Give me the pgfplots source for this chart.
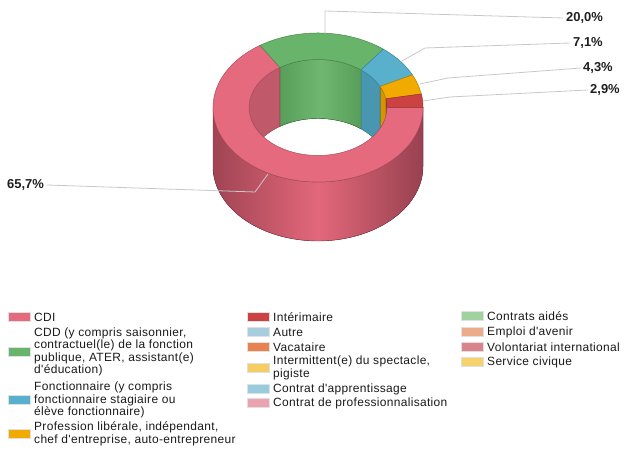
\documentclass[border=0pt]{standalone}
\usepackage{fontspec}
\setmainfont{Liberation Sans}
\newfontfamily\legfam[LetterSpace=2.8]{Liberation Sans}
\usepackage{pgfplots}
\pgfplotsset{compat=1.18}
\usepackage{pgfplotstable}
\usepgfplotslibrary{fillbetween}

\definecolor{cdi}{RGB}{229,106,126}
\definecolor{cdiD}{RGB}{160,68,84}
\definecolor{cdiM}{RGB}{226,104,122}
\definecolor{cdiIn}{RGB}{192,90,106}
\definecolor{cdd}{RGB}{104,180,106}
\definecolor{cddD}{RGB}{88,158,90}
\definecolor{fonc}{RGB}{88,176,204}
\definecolor{foncIn}{RGB}{72,150,176}
\definecolor{prof}{RGB}{240,170,0}
\definecolor{inter}{RGB}{204,66,66}
\definecolor{autre}{RGB}{166,206,222}
\definecolor{vaca}{RGB}{232,130,80}
\definecolor{intermit}{RGB}{246,205,100}
\definecolor{appr}{RGB}{150,204,222}
\definecolor{cpro}{RGB}{236,162,176}
\definecolor{aides}{RGB}{160,210,160}
\definecolor{avenir}{RGB}{236,172,140}
\definecolor{volont}{RGB}{216,132,138}
\definecolor{civique}{RGB}{246,210,110}
\definecolor{leader}{RGB}{200,200,200}

\pgfplotstableread{
label pct
CDI 65.7
CDD 20.0
Fonctionnaire 7.1
Profession 4.3
Interimaire 2.9
}\donutdata

% geometry of the donut (image pixel units)
\def\cx{318}\def\cy{107.5}\def\ra{105}\def\rb{74.5}\def\ia{69}\def\ib{48}\def\hh{59}

\newcommand\topface[4]{% id, color, t_lo, t_hi
  \addplot[name path=o#1, draw=none, domain=#3:#4, samples=80, forget plot] ({\cx+\ra*cos(x)},{\cy-\rb*sin(x)});
  \addplot[name path=i#1, draw=none, domain=#3:#4, samples=80, forget plot] ({\cx+\ia*cos(x)},{\cy-\ib*sin(x)});
  \addplot[fill=#2, draw=#2!75!black, line width=0.5bp, forget plot] fill between[of=o#1 and i#1];
}
\newcommand\innerwall[4]{% id, style, t_lo, t_hi (within 0..180)
  \addplot[name path=wt#1, draw=none, domain=#3:#4, samples=60, forget plot] ({\cx+\ia*cos(x)},{\cy-\ib*sin(x)});
  \addplot[name path=wb#1, draw=none, domain=#3:#4, samples=60, forget plot] ({\cx+\ia*cos(x)},{\cy+min(\hh-\ib*sin(x),\ib*sin(x))});
  \addplot[#2, forget plot] fill between[of=wt#1 and wb#1];
}
\newcommand\legfont{\legfam\fontsize{12}{12.5}\selectfont}
\newcommand\legentry[4]{% x, y, color, text
  \filldraw[fill=#3, draw=black!12, line width=0.6bp] (axis cs:#1,#2-4.5) rectangle (axis cs:#1+22,#2+4.5);
  \node[anchor=west, align=left, inner sep=0pt, font=\legfont, text=black!90] at (axis cs:#1+26,#2) {#4};
}

\begin{document}
\begin{tikzpicture}
\pgfplotstablegetelem{0}{pct}\of\donutdata\let\pA\pgfplotsretval
\pgfplotstablegetelem{1}{pct}\of\donutdata\let\pB\pgfplotsretval
\pgfplotstablegetelem{2}{pct}\of\donutdata\let\pC\pgfplotsretval
\pgfplotstablegetelem{3}{pct}\of\donutdata\let\pD\pgfplotsretval
\pgfplotstablegetelem{4}{pct}\of\donutdata\let\pE\pgfplotsretval
\pgfmathsetmacro\tA{0}
\pgfmathsetmacro\tB{\tA-3.6*\pA}
\pgfmathsetmacro\tC{\tB-3.6*\pB}
\pgfmathsetmacro\tD{\tC-3.6*\pC}
\pgfmathsetmacro\tE{\tD-3.6*\pD}
\pgfmathsetmacro\tF{\tE-3.6*\pE}
% same boundaries shifted by +360 for the back inner wall
\pgfmathsetmacro\sB{\tB+360}
\pgfmathsetmacro\sC{\tC+360}
\pgfmathsetmacro\sD{\tD+360}
\pgfmathsetmacro\sE{\tE+360}
\begin{axis}[
  scale only axis, width=629bp, height=450bp,
  xmin=0, xmax=629, ymin=0, ymax=450, y dir=reverse,
  axis lines=none, clip=false,
]
\path (axis cs:0,0) rectangle (axis cs:629,450);
% inner (back) walls seen through the hole
\innerwall{a}{fill=inter!85!black, draw=inter!60!black, line width=0.4bp}{0}{\sE}
\innerwall{b}{fill=prof!88!black, draw=prof!60!black, line width=0.4bp}{\sE}{\sD}
\innerwall{c}{fill=foncIn, draw=foncIn!70!black, line width=0.4bp}{\sD}{\sC}
\innerwall{d}{left color=cddD, right color=cddD, middle color=cdd!95!white, draw=cddD!70!black, line width=0.4bp}{\sC}{\sB}
\innerwall{e}{fill=cdiIn, draw=cdiIn!70!black, line width=0.4bp}{\sB}{180}
% outer front wall (all CDI)
\addplot[name path=ft, draw=none, domain=-180:0, samples=100, forget plot] ({\cx+\ra*cos(x)},{\cy-\rb*sin(x)});
\addplot[name path=fb, draw=none, domain=-180:0, samples=100, forget plot] ({\cx+\ra*cos(x)},{\cy-\rb*sin(x)+\hh});
\addplot[left color=cdiD, right color=cdiD!95!black, middle color=cdiM, draw=cdiD!80!black, line width=0.4bp, forget plot] fill between[of=ft and fb];
% top faces
\topface{A}{cdi}{\tB}{\tA}
\topface{B}{cdd}{\tC}{\tB}
\topface{C}{fonc}{\tD}{\tC}
\topface{D}{prof}{\tE}{\tD}
\topface{E}{inter}{\tF}{\tE}
% leader lines
\draw[leader, line width=0.8bp] (axis cs:325,34) -- (axis cs:325,11) -- (axis cs:563,18);
\draw[leader, line width=0.8bp] (axis cs:402,61) -- (axis cs:425,48) -- (axis cs:570,43);
\draw[leader, line width=0.8bp] (axis cs:420,84) -- (axis cs:448,78) -- (axis cs:581,68);
\draw[leader, line width=0.8bp] (axis cs:423,101) -- (axis cs:450,97) -- (axis cs:588,90);
\draw[leader, line width=0.8bp] (axis cs:47,185) -- (axis cs:255,192) -- (axis cs:268,174);
% value labels
\begin{scope}[every node/.style={anchor=west, inner sep=0pt, font=\fontsize{13}{14}\selectfont\bfseries, text=black!88}]
\node at (axis cs:566,18) {20,0\%};
\node at (axis cs:573,43) {7,1\%};
\node at (axis cs:583,68) {4,3\%};
\node at (axis cs:590,90) {2,9\%};
\node at (axis cs:7,185) {65,7\%};
\end{scope}
% legend
\legentry{8}{317}{cdi}{CDI}
\legentry{8}{352}{cdd}{CDD (y compris saisonnier,\\contractuel(le) de la fonction\\publique, ATER, assistant(e)\\d'éducation)}
\legentry{8}{400}{fonc}{Fonctionnaire (y compris\\fonctionnaire stagiaire ou\\élève fonctionnaire)}
\legentry{8}{434}{prof}{Profession libérale, indépendant,\\chef d'entreprise, auto-entrepreneur}
\legentry{247}{317}{inter}{Intérimaire}
\legentry{247}{332}{autre}{Autre}
\legentry{247}{347}{vaca}{Vacataire}
\legentry{247}{368}{intermit}{Intermittent(e) du spectacle,\\pigiste}
\legentry{247}{389}{appr}{Contrat d'apprentissage}
\legentry{247}{403}{cpro}{Contrat de professionnalisation}
\legentry{461}{316}{aides}{Contrats aidés}
\legentry{461}{332}{avenir}{Emploi d'avenir}
\legentry{461}{347}{volont}{Volontariat international}
\legentry{461}{362}{civique}{Service civique}
\end{axis}
\end{tikzpicture}
\end{document}
